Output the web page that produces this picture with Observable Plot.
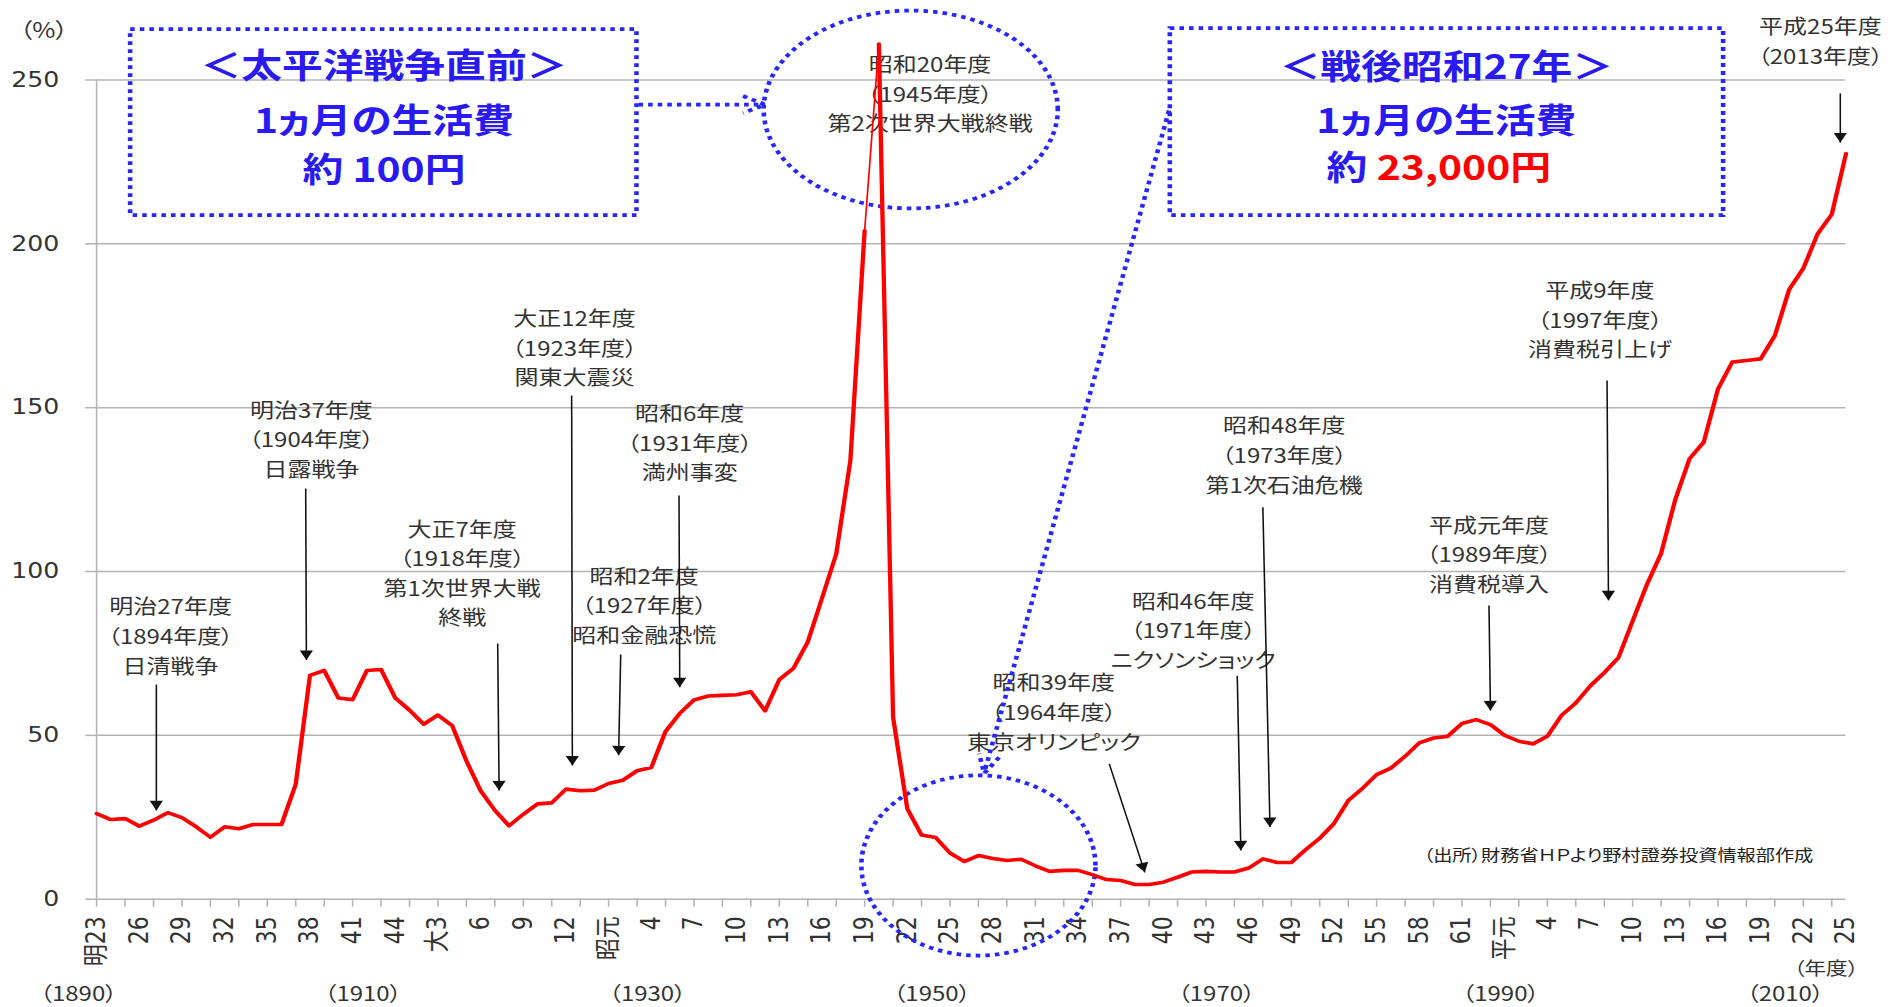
<!DOCTYPE html>
<html lang="ja">
<head>
<meta charset="utf-8">
<title>政府債務残高の対GDP比の推移</title>
<script src="https://cdn.jsdelivr.net/npm/d3@7"></script>
<script src="https://cdn.jsdelivr.net/npm/@observablehq/plot@0.6"></script>
<style>
  html, body { margin: 0; padding: 0; background: #fff; overflow: hidden; }
  #chart svg text { font-feature-settings: "palt"; }
  #chart svg g[aria-label="cost"] text { font-feature-settings: normal; }
</style>
</head>
<body>
<div id="chart"></div>
<script>
// 政府債務残高（対GDP比, %）, 明治23年度(1890)〜平成25年度(2013)
const firstYear = 1890;
const debtRatio = [
  26.1, 24.3, 24.6, 22.3, 24.1, 26.4, 24.9, 22.1, 18.9, 22.1,   // 1890-1899
  21.5, 22.8, 22.8, 22.8, 35.1, 68.3, 69.8, 61.4, 60.9, 69.8,   // 1900-1909
  70.1, 61.4, 57.7, 53.4, 56.2, 53.0, 42.2, 33.1, 27.1, 22.4,   // 1910-1919
  25.9, 29.1, 29.4, 33.6, 33.1, 33.3, 35.3, 36.3, 39.2, 40.2,   // 1920-1929
  51.2, 56.7, 60.8, 62.0, 62.2, 62.4, 63.3, 57.5, 67.0, 70.5,   // 1930-1939
  78.5, 91.8, 105.3, 134.0, 204.0, 261.0, 55.5, 27.6, 19.6, 18.8, // 1940-1949
  14.1, 11.5, 13.3, 12.4, 11.8, 12.2, 10.2, 8.5, 8.8, 8.8,      // 1950-1959
  7.5, 6.0, 5.7, 4.5, 4.5, 5.2, 6.7, 8.3, 8.5, 8.3,             // 1960-1969
  8.3, 9.5, 12.3, 11.2, 11.2, 15.1, 18.6, 23.1, 30.1, 33.8,     // 1970-1979
  38.0, 40.0, 43.6, 47.7, 49.2, 49.7, 53.6, 54.8, 53.3, 50.0,   // 1980-1989
  48.2, 47.4, 49.7, 56.1, 59.9, 65.0, 69.1, 73.7, 84.9, 96.0,   // 1990-1999
  105.5, 122.0, 134.4, 139.5, 155.7, 163.9, 164.4, 164.9, 172.0, 186.0, // 2000-2009
  192.5, 203.0, 209.0, 227.5                                    // 2010-2013
];
const series = debtRatio.map((value, i) => ({year: firstYear + i, value}));

// 年度目盛（3年ごと）と和暦ラベル
const tickLabelYears = d3.range(1890, 2014, 3);
const tickLabels = [
  "明23", "26", "29", "32", "35", "38", "41", "44",
  "大3", "6", "9", "12",
  "昭元", "4", "7", "10", "13", "16", "19", "22", "25", "28", "31", "34", "37",
  "40", "43", "46", "49", "52", "55", "58", "61",
  "平元", "4", "7", "10", "13", "16", "19", "22", "25"
];
const labelByYear = new Map(tickLabelYears.map((y, i) => [y, tickLabels[i]]));
const minorTickYears = d3.range(1890, 2013, 2);
const eraYears = [1890, 1910, 1930, 1950, 1970, 1990, 2010];
const yTicks = [0, 50, 100, 150, 200, 250];

// 出来事の注記（位置は x=年度, y=% の座標）
const callouts = [
  {text: "明治27年度\n（1894年度）\n日清戦争", x: 1895.2, y: 80.8, from: [1894.2, 65.5], to: [1894.2, 27.1]},
  {text: "明治37年度\n（1904年度）\n日露戦争", x: 1905.1, y: 140.8, from: [1904.7, 125.3], to: [1904.75, 73.0]},
  {text: "大正7年度\n（1918年度）\n第1次世界大戦\n終戦", x: 1915.7, y: 100.0, from: [1918.2, 78.0], to: [1918.3, 33.2]},
  {text: "大正12年度\n（1923年度）\n関東大震災", x: 1923.6, y: 168.8, from: [1923.4, 153.7], to: [1923.45, 40.8]},
  {text: "昭和2年度\n（1927年度）\n昭和金融恐慌", x: 1928.5, y: 90.1, from: [1926.85, 74.7], to: [1926.7, 43.9]},
  {text: "昭和6年度\n（1931年度）\n満州事変", x: 1931.7, y: 139.7, from: [1930.95, 123.2], to: [1931.0, 64.7]},
  {text: "昭和20年度\n（1945年度）\n第2次世界大戦終戦", x: 1948.6, y: 246.3},
  {text: "昭和39年度\n（1964年度）\n東京オリンピック", x: 1957.3, y: 57.6, from: [1961.2, 41.3], to: [1963.7, 8.2]},
  {text: "昭和46年度\n（1971年度）\nニクソンショック", x: 1967.1, y: 82.5, from: [1970.2, 68.2], to: [1970.45, 14.9]},
  {text: "昭和48年度\n（1973年度）\n第1次石油危機", x: 1973.5, y: 136.0, from: [1972.0, 119.6], to: [1972.5, 22.0]},
  {text: "平成元年度\n（1989年度）\n消費税導入", x: 1987.9, y: 105.7, from: [1987.9, 89.6], to: [1988.0, 57.6]},
  {text: "平成9年度\n（1997年度）\n消費税引上げ", x: 1995.7, y: 177.3, from: [1996.2, 158.3], to: [1996.3, 91.2]},
  {text: "平成25年度\n（2013年度）", x: 2011.2, y: 262.3, from: [2012.6, 245.9], to: [2012.6, 230.9]}
];

// 生活費の比較ボックス
const costBoxes = [
  {x1: 1892.4, x2: 1928.0, y1: 208.6, y2: 265.4},
  {x1: 1965.5, x2: 2004.4, y1: 208.6, y2: 265.7}
];
const costTitles = [
  {text: "＜太平洋戦争直前＞", x: 1910.2, y: 253.8},
  {text: "1ヵ月の生活費", x: 1910.2, y: 237.3},
  {text: "約 100円", x: 1910.2, y: 222.3},
  {text: "＜戦後昭和27年＞", x: 1984.9, y: 253.6},
  {text: "1ヵ月の生活費", x: 1984.9, y: 237.3}
];
const costPrefix = [{text: "約", x: 1979.35, y: 222.8}];
const costAmount = [{text: "23,000円", x: 1980.0, y: 222.8}];
const circles = [
  {cx: 1947.24, cy: 241.0, rx: 10.34, ry: 30.2},
  {cx: 1952.0, cy: 10.3, rx: 8.23, ry: 27.5}
];
const pointers = [
  {x1: 1928.1, y1: 242.5, x2: 1937.0, y2: 242.5},
  {x1: 1965.4, y1: 240.7, x2: 1952.4, y2: 38.4}
];

// レイアウト（横方向に引き伸ばして表示する）
const pageWidth = 1894, pageHeight = 1007;
const width = 1578;
const margin = {top: 79.5, right: 40.5, bottom: 108.3, left: 80};
const pxPerYear = (width - margin.left - margin.right) / (2013 - 1890);
const pxPerUnit = (pageHeight - margin.top - margin.bottom) / 250;

const gray = "#b4b4b4";
const ink = "#333";
const dotBlue = "#2626ff";
const textBlue = "#2a1af2";
const red = "#ff0000";
const dotted = {
  stroke: dotBlue, strokeWidth: 3.8, strokeDasharray: "3.8,4.2",
  strokeLinecap: "butt", strokeLinejoin: "miter", fill: "none"
};
const cjk = "'Noto Sans CJK JP', sans-serif";
const costFont = {lineAnchor: "middle", fontSize: 34, fontWeight: "bold", ariaLabel: "cost"};

const ellipsePoints = (c, i) => d3.range(0, 181).map(k => {
  const t = (k / 180) * 2 * Math.PI;
  return {id: i, x: c.cx + c.rx * Math.cos(t), y: c.cy + c.ry * Math.sin(t)};
});
const ellipseData = circles.flatMap(ellipsePoints);

// 矢印の先端（塗りつぶし三角形）
const tipOffset = 6.35;
const arrowed = callouts.filter(c => c.to);
const heads = arrowed.map(c => {
  const dx = (c.to[0] - c.from[0]) * pxPerYear;
  const dy = (c.from[1] - c.to[1]) * pxPerUnit;
  const len = Math.hypot(dx, dy);
  return {
    x: c.to[0] - (tipOffset * dx / len) / pxPerYear,
    y: c.to[1] + (tipOffset * dy / len) / pxPerUnit,
    rotate: 180 - Math.atan2(dx, dy) * 180 / Math.PI
  };
});

const prewar = series.filter(d => d.year <= 1944);
const peak = series.filter(d => d.year >= 1944 && d.year <= 1945);
const postwar = series.filter(d => d.year >= 1945);

const chart = Plot.plot({
  width,
  height: pageHeight,
  marginTop: margin.top,
  marginRight: margin.right,
  marginBottom: margin.bottom,
  marginLeft: margin.left,
  x: {type: "linear", domain: [1890, 2013], label: null},
  y: {domain: [0, 250], label: null},
  style: {background: "#fff", fontFamily: cjk, color: ink},
  marks: [
    Plot.gridY([50, 100, 150, 200, 250], {stroke: gray, strokeOpacity: 1, strokeWidth: 1.5}),
    Plot.ruleY([0], {stroke: gray, strokeWidth: 1.6}),
    Plot.ruleX([1890], {y1: 0, y2: 250, stroke: gray, strokeWidth: 1.3}),
    Plot.axisY(yTicks, {
      tickSize: 9, tickPadding: 22, stroke: gray, strokeWidth: 1.5, fill: ink,
      fontSize: 21, fontFamily: "'DejaVu Sans', sans-serif", label: null
    }),
    Plot.axisX(minorTickYears, {tickSize: 8, stroke: gray, strokeWidth: 1.3, fill: "none", label: null}),
    Plot.axisX(tickLabelYears, {
      tickSize: 0, tickPadding: 17, tickRotate: -90, textAnchor: "end", lineAnchor: "middle",
      tickFormat: d => labelByYear.get(d), fill: ink, fontSize: 22,
      fontFamily: "'DejaVu Sans', 'Noto Sans CJK JP', sans-serif", label: null
    }),
    Plot.text(eraYears, {
      x: d => d, text: d => `（${d}）`, frameAnchor: "bottom", dy: 95, dx: -15,
      textAnchor: "middle", lineAnchor: "middle", fontSize: 20, fill: ink
    }),
    Plot.text(["（%）"], {
      frameAnchor: "top-left", dx: -44, dy: -49, textAnchor: "middle", lineAnchor: "middle",
      fontSize: 21, fill: ink
    }),
    Plot.text(["（年度）"], {
      x: 2011.6, frameAnchor: "bottom", dy: 70, textAnchor: "middle", lineAnchor: "middle",
      fontSize: 18, fill: ink
    }),
    Plot.text(["（出所）財務省ＨＰより野村證券投資情報部作成"], {
      x: 1997.0, y: 13.3, lineAnchor: "middle", fontSize: 16, fill: "#222"
    }),

    // 注記テキストと矢印
    Plot.text(callouts, {
      x: "x", y: "y", text: "text", lineAnchor: "middle", lineHeight: 1.48,
      fontSize: 20, fill: ink, ariaLabel: "callout"
    }),
    Plot.link(arrowed, {
      x1: c => c.from[0], y1: c => c.from[1], x2: c => c.to[0], y2: c => c.to[1],
      stroke: "#111", strokeWidth: 1.3
    }),
    Plot.dot(heads, {x: "x", y: "y", rotate: "rotate", symbol: "triangle", r: 4.1, fill: "#111", stroke: "none"}),

    // 生活費の比較（点線の枠・円・矢印）
    Plot.rect(costBoxes, {x1: "x1", x2: "x2", y1: "y1", y2: "y2", ...dotted}),
    Plot.text(costTitles, {x: "x", y: "y", text: "text", textAnchor: "middle", fill: textBlue, ...costFont}),
    Plot.text(costPrefix, {x: "x", y: "y", text: "text", textAnchor: "end", fill: textBlue, ...costFont}),
    Plot.text(costAmount, {x: "x", y: "y", text: "text", textAnchor: "start", fill: red, ...costFont}),
    Plot.line(ellipseData, {x: "x", y: "y", z: "id", ...dotted}),
    Plot.arrow(pointers, {x1: "x1", y1: "y1", x2: "x2", y2: "y2", headLength: 8, headAngle: 50, ...dotted}),

    // 債務残高の推移
    Plot.line(prewar, {x: "year", y: "value", stroke: red, strokeWidth: 3.6, strokeLinejoin: "round"}),
    Plot.line(peak, {x: "year", y: "value", stroke: red, strokeWidth: 1.4}),
    Plot.line(postwar, {x: "year", y: "value", stroke: red, strokeWidth: 3.6, strokeLinejoin: "round", strokeLinecap: "round"})
  ]
});

chart.setAttribute("width", pageWidth);
chart.setAttribute("height", pageHeight);
chart.setAttribute("preserveAspectRatio", "none");
chart.style.width = pageWidth + "px";
chart.style.height = pageHeight + "px";
chart.style.maxWidth = "none";
document.getElementById("chart").appendChild(chart);
</script>
</body>
</html>
